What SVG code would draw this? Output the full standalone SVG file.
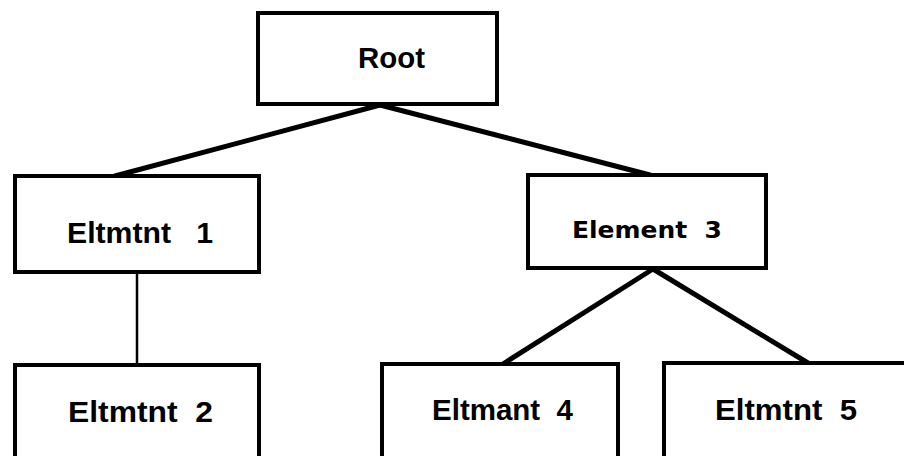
<svg xmlns="http://www.w3.org/2000/svg" width="904" height="456" viewBox="0 0 904 456">
<style>
.box{fill:#fff;stroke:#000;stroke-width:4}
.lbl{font-family:"Liberation Sans",Arial,sans-serif;font-weight:bold;font-size:30px;fill:#000}
.lbl3{font-family:"DejaVu Sans",sans-serif;font-weight:900;font-size:23px;fill:#000}
.conn{stroke:#000;stroke-width:5;fill:none;stroke-linecap:round}
.thin{stroke:#000;stroke-width:2.5;fill:none}
</style>
<rect width="904" height="456" fill="#fff"/>
<g id="connectors">
<line class="conn" x1="380" y1="105" x2="115" y2="176"/>
<line class="conn" x1="380" y1="105" x2="650" y2="175"/>
<line class="thin" x1="137" y1="272" x2="137" y2="365"/>
<line class="conn" x1="653" y1="269" x2="503" y2="364"/>
<line class="conn" x1="653" y1="269" x2="808" y2="363"/>
</g>
<g id="root">
<rect class="box" x="258" y="13" width="239" height="91"/>
<text class="lbl" x="358" y="68" textLength="67" lengthAdjust="spacingAndGlyphs">Root</text>
</g>
<g id="element1">
<rect class="box" x="15" y="176" width="244" height="96"/>
<text class="lbl" x="67" y="243" textLength="146" lengthAdjust="spacingAndGlyphs" xml:space="preserve">Eltmtnt   1</text>
</g>
<g id="element3">
<rect class="box" x="528" y="175" width="238" height="93"/>
<text class="lbl3" x="572" y="238" textLength="150" lengthAdjust="spacingAndGlyphs" xml:space="preserve">Element  3</text>
</g>
<g id="element2">
<rect class="box" x="15" y="365" width="244" height="100"/>
<text class="lbl" x="68" y="422" textLength="145" lengthAdjust="spacingAndGlyphs" xml:space="preserve">Eltmtnt  2</text>
</g>
<g id="element4">
<rect class="box" x="382" y="364" width="236" height="100"/>
<text class="lbl" x="432" y="420" textLength="141" lengthAdjust="spacingAndGlyphs" xml:space="preserve">Eltmant  4</text>
</g>
<g id="element5">
<rect class="box" x="664" y="363" width="242" height="100"/>
<text class="lbl" x="715" y="420" textLength="142" lengthAdjust="spacingAndGlyphs" xml:space="preserve">Eltmtnt  5</text>
</g>
</svg>
